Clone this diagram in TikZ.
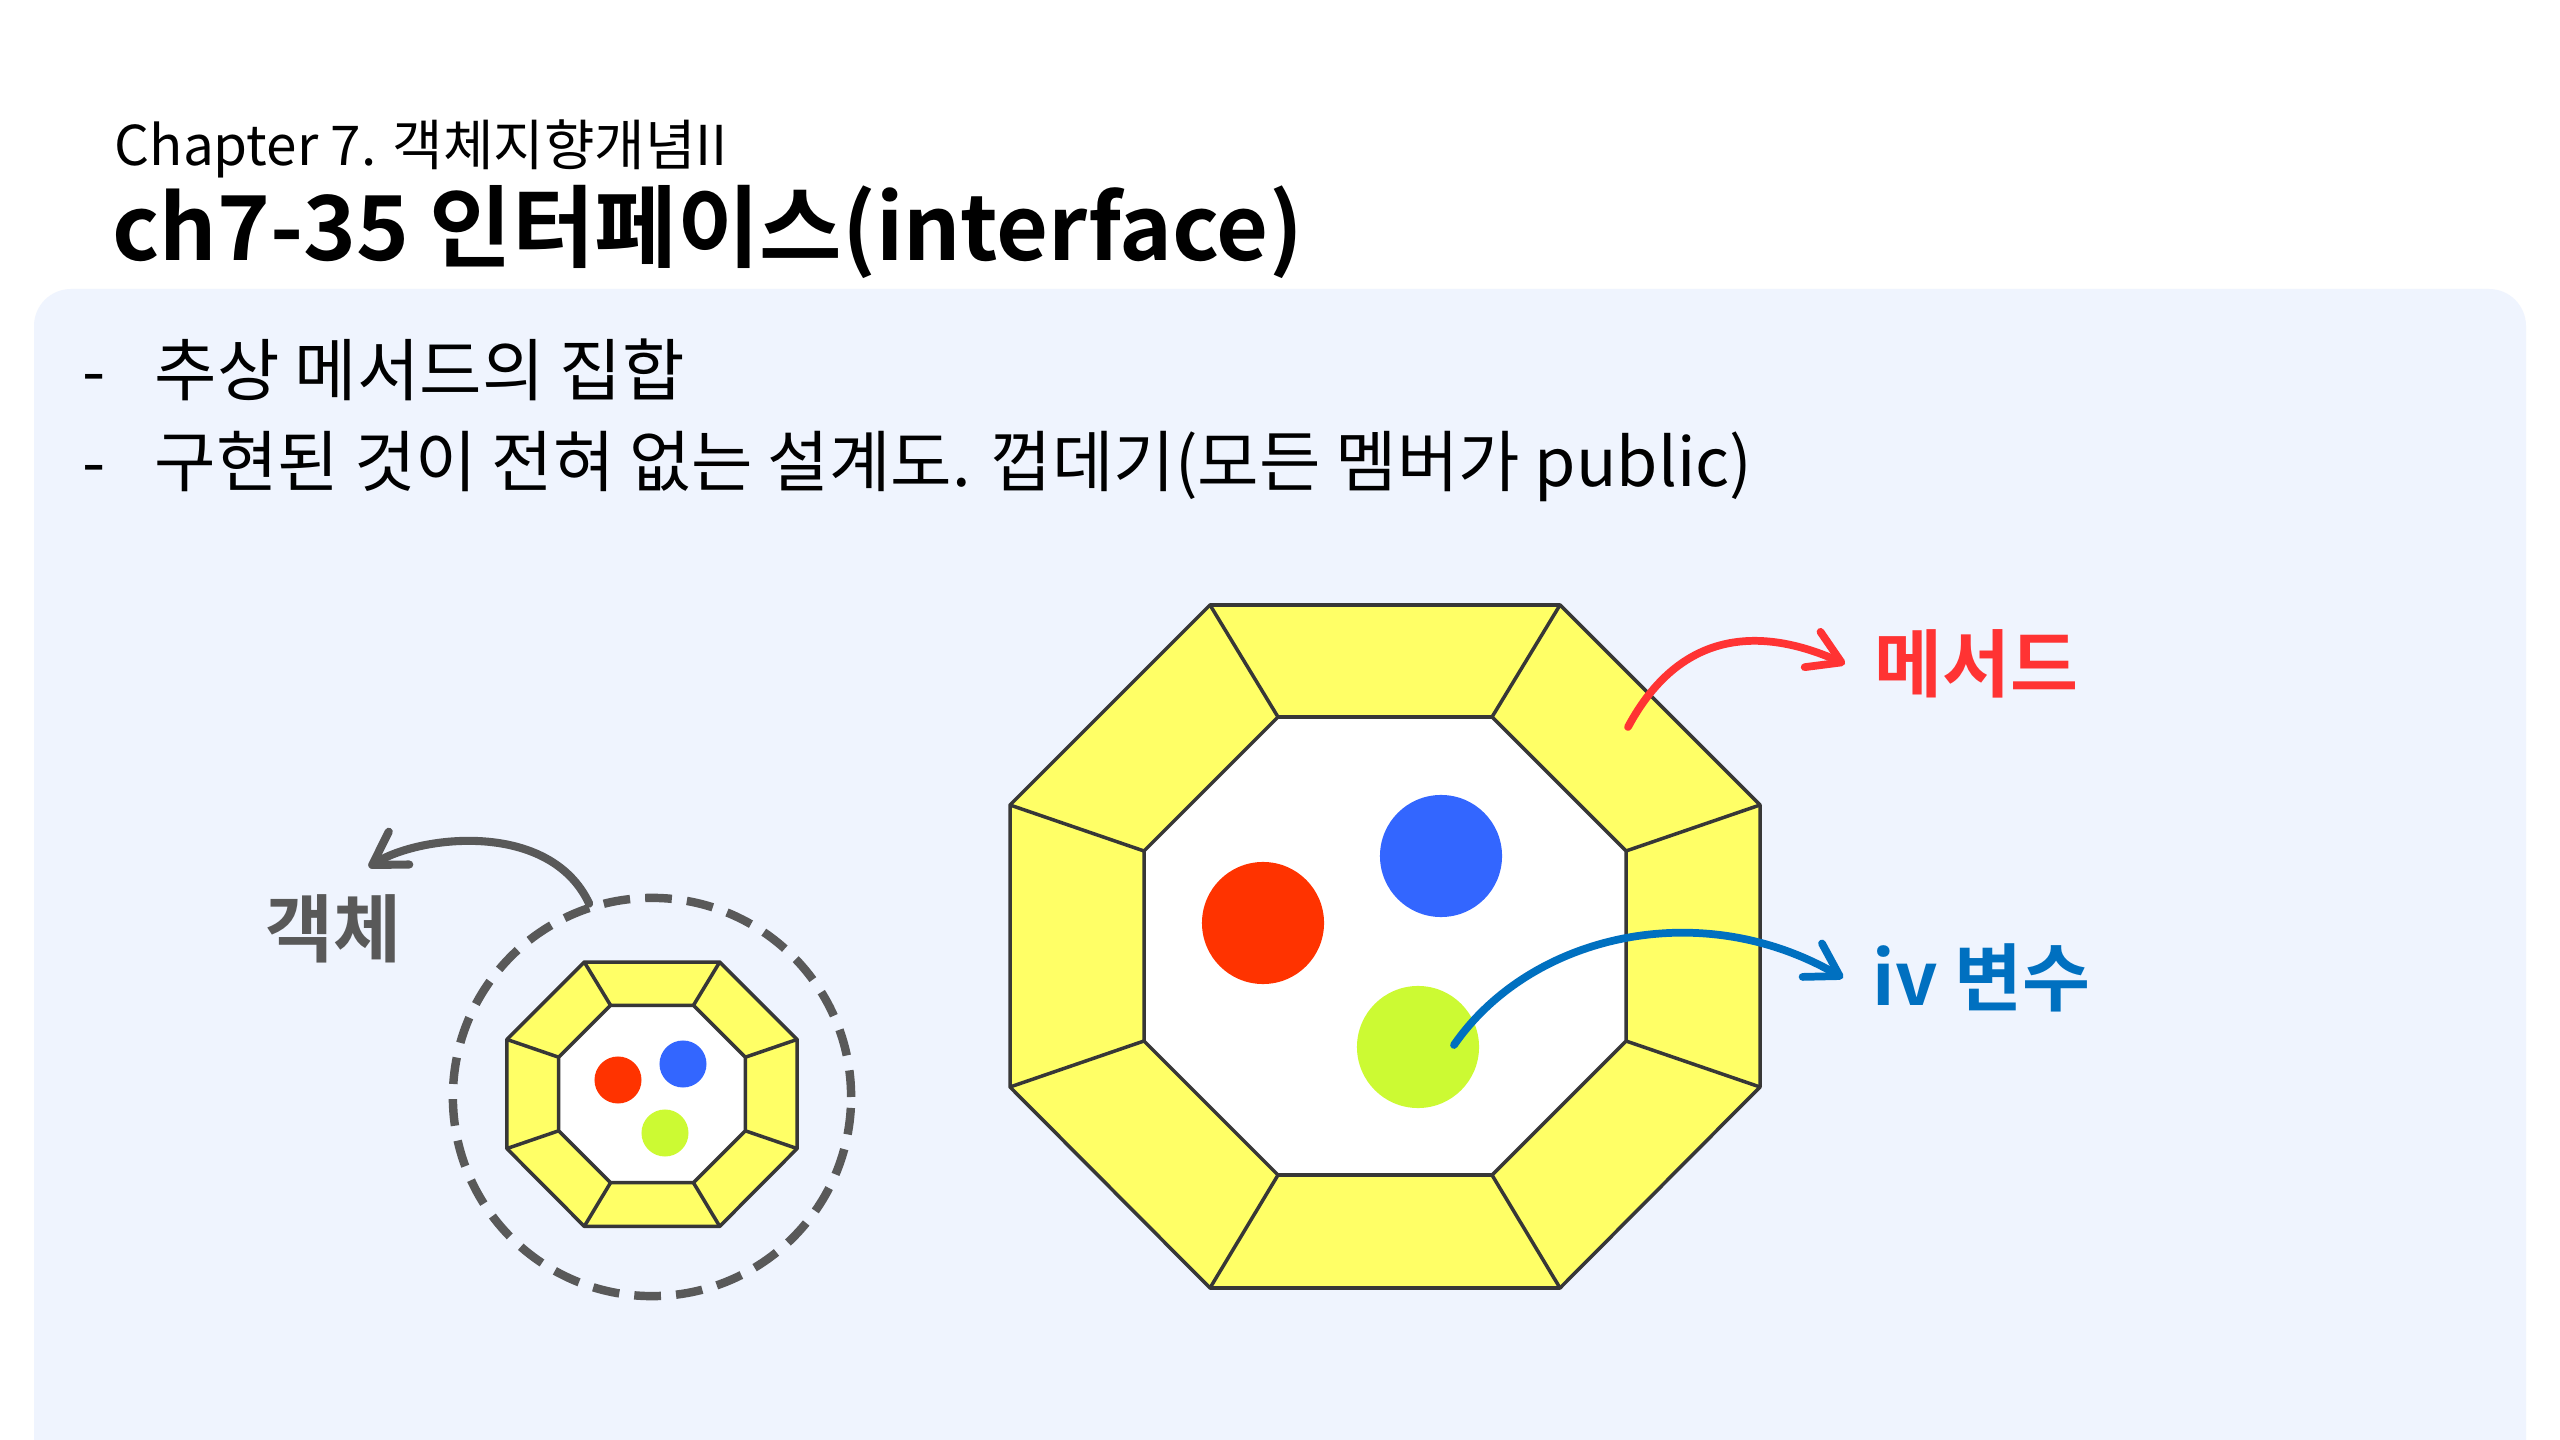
\documentclass[tikz,border=0pt]{standalone}
\usepackage{fontspec}
\setmainfont{Noto Sans CJK KR}[BoldFont={Noto Sans CJK KR Bold}]
\usetikzlibrary{arrows.meta}

\definecolor{panelbg}{RGB}{239,244,254}
\definecolor{octyellow}{RGB}{255,255,102}
\definecolor{octline}{RGB}{55,55,55}
\definecolor{methred}{RGB}{255,51,51}
\definecolor{varblue}{RGB}{0,112,192}
\definecolor{objgray}{RGB}{89,89,89}
\definecolor{dotred}{RGB}{255,51,0}
\definecolor{dotblue}{RGB}{51,102,255}
\definecolor{dotgreen}{RGB}{204,250,51}

\tikzset{
  edge/.style={draw=octline, line width=1pt, line join=round},
  bigdot/.style={circle, inner sep=0pt, minimum size=1.22cm},
  smalldot/.style={circle, inner sep=0pt, minimum size=0.47cm},
  tagtext/.style={inner xsep=0.29cm, inner ysep=0.27cm, font=\fontsize{21pt}{24pt}\selectfont\bfseries},
  pointer/.style={line width=2.2pt, line cap=round,
    -{Straight Barb[length=9pt,width=11pt,line cap=round,line join=round]}}
}

% octagon ring: centre x, centre y, scale
\newcommand{\octaring}[3]{
  \begin{scope}[shift={(#1,#2)}, scale=#3]
    \filldraw[fill=octyellow, edge] (-175,-341) -- (175,-341) -- (375,-141) -- (375,141)
      -- (175,342) -- (-175,342) -- (-375,141) -- (-375,-141) -- cycle;
    \filldraw[fill=white, edge] (-107,-229) -- (107,-229) -- (241,-95) -- (241,95)
      -- (107,229) -- (-107,229) -- (-241,95) -- (-241,-95) -- cycle;
    \foreach \ox/\oy/\ix/\iy in {-175/-341/-107/-229, 175/-341/107/-229, 375/-141/241/-95,
        375/141/241/95, 175/342/107/229, -175/342/-107/229, -375/141/-241/95, -375/-141/-241/-95}
      \draw[edge] (\ox,\oy) -- (\ix,\iy);
  \end{scope}
}

\begin{document}
\begin{tikzpicture}[x=0.01cm, y=-0.01cm]
  \useasboundingbox (0,0) rectangle (2560,1440);
  \clip (0,0) rectangle (2560,1440);
  \fill[white] (0,0) rectangle (2560,1440);
  \fill[panelbg, rounded corners=0.37cm] (34,289) rectangle (2526,1500);

  % headings
  \node[anchor=base west, inner sep=0pt, font=\fontsize{15.6pt}{18pt}\selectfont] (chapter) at (114,166) {Chapter 7. 객체지향개념II};
  \node[anchor=base west, inner sep=0pt, font=\fontsize{25.5pt}{29pt}\selectfont\bfseries] (title) at (112,261) {ch7-35 인터페이스(interface)};

  % bullets
  \node[anchor=base west, inner sep=0pt, font=\fontsize{19pt}{22pt}\selectfont] (dash1) at (82,396) {-};
  \node[anchor=base west, inner sep=0pt, font=\fontsize{19.3pt}{22pt}\selectfont] (item1) at (154,396) {추상 메서드의 집합};
  \node[anchor=base west, inner sep=0pt, font=\fontsize{19pt}{22pt}\selectfont] (dash2) at (82,487) {-};
  \node[anchor=base west, inner sep=0pt, font=\fontsize{19pt}{22pt}\selectfont] (item2) at (154,487) {구현된 것이 전혀 없는 설계도. 껍데기(모든 멤버가 public)};

  % big interface octagon
  \octaring{1385}{946}{1}
  \node[bigdot, fill=dotred] (bigred) at (1263,923) {};
  \node[bigdot, fill=dotblue] (bigblue) at (1441,856) {};
  \node[bigdot, fill=dotgreen] (biggreen) at (1418,1047) {};

  % small object
  \octaring{652}{1094}{0.387}
  \node[smalldot, fill=dotred] (smallred) at (618,1080) {};
  \node[smalldot, fill=dotblue] (smallblue) at (683,1064) {};
  \node[smalldot, fill=dotgreen] (smallgreen) at (665,1133) {};
  \node[circle, draw=objgray, line width=2.4pt, dash pattern=on 7.6pt off 4.3pt, minimum size=3.98cm] (objring) at (652,1097) {};

  % tags
  \node[tagtext, anchor=west, text=methred] (methtag) at (1845,664) {메서드};
  \node[tagtext, anchor=west, text=varblue] (vartag) at (1843,978) {iv 변수};
  \node[tagtext, text=objgray] (objtag) at (333,929) {객체};

  % pointers
  \coordinate (methfrom) at (1628,727);
  \coordinate (varfrom) at (1454,1045);
  \draw[pointer, methred] (methfrom) .. controls (1680,630) and (1760,626) .. (methtag.west);
  \draw[pointer, varblue] (varfrom) .. controls (1530,935) and (1700,895) .. (vartag.west);
  \draw[pointer, objgray, line width=2.3pt] (objring.108) .. controls (550,820) and (420,835) .. (objtag.60);
\end{tikzpicture}
\end{document}
